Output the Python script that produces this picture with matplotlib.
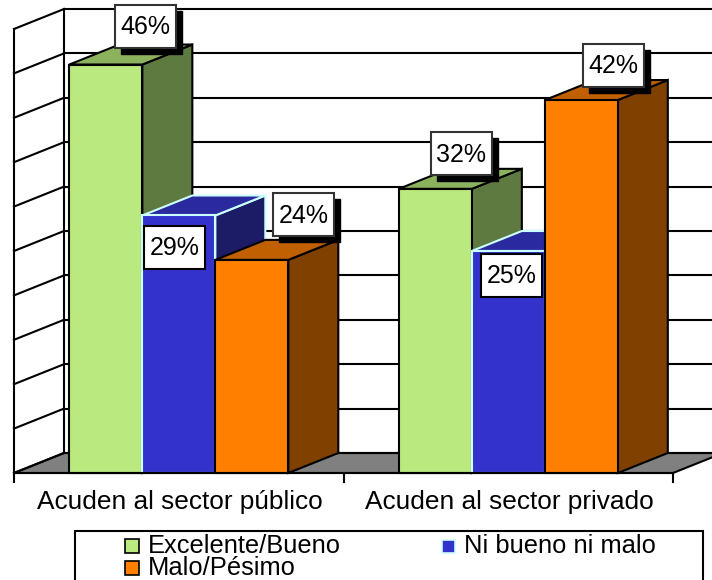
import matplotlib
matplotlib.use('Agg')
import matplotlib.pyplot as plt
from matplotlib.patches import Polygon, Rectangle

plt.rcParams['font.family'] = ['Liberation Sans', 'DejaVu Sans']

# data
categories = ['Acuden al sector público', 'Acuden al sector privado']
series = ['Excelente/Bueno', 'Ni bueno ni malo', 'Malo/Pésimo']
excelente = [46, 32]
ni_bueno = [29, 25]
malo = [24, 42]
values = [excelente, ni_bueno, malo]
y_ticks = [0, 5, 10, 15, 20, 25, 30, 35, 40, 45, 50]

# front, top, side, edge
styles = [('#B9E97F', '#8DB25E', '#5E7A40', 'black'),
          ('#3333CC', '#2A2A9E', '#1B1B66', '#CCFFFF'),
          ('#FF8000', '#C06000', '#804000', 'black')]

# moved labels, offset in pixels from the front top centre of each bar
label_off = [[(40, -38.5), (26, -35)],
             [(-4, 32), (3, 24)],
             [(52, -45), (32, -35)]]

W, H = 712, 580
fig = plt.figure(figsize=(W / 100, H / 100), dpi=100, facecolor='white')

# axes area is the front plane of the 3D box
ax = fig.add_axes([14 / W, 1 - 473 / H, 659 / W, 444 / H])
ax.set_xlim(0, 2)
ax.set_ylim(0, 50)
ax.axis('off')

page = fig.add_axes([0, 0, 1, 1], zorder=5)
page.set_xlim(0, W)
page.set_ylim(H, 0)
page.axis('off')

px = 2 / 659
py = 50 / 444
dx = 50 * px
dy = 20 * py
bar_w = 0.2215
gap = 0.168
lw = 1.5

# floor and walls
ax.add_patch(Polygon([(0, 0), (dx, dy), (2 + dx, dy), (2, 0)], fc='#808080', ec='black', lw=lw,
                     clip_on=False, zorder=1))
for t in y_ticks:
    ax.plot([dx, 2 + dx + 0.1], [t + dy, t + dy], color='black', lw=lw, clip_on=False, zorder=1)
    ax.plot([0, dx], [t, t + dy], color='black', lw=lw, clip_on=False, zorder=1)
ax.plot([0, 0], [0, 50], color='black', lw=lw, clip_on=False, zorder=1)
ax.plot([dx, dx], [dy, 50 + dy], color='black', lw=lw, clip_on=False, zorder=1)

# bars, later ones cover the earlier ones
z = 2
for c in range(len(categories)):
    for s in range(len(series)):
        v = values[s][c]
        x0 = c + gap + s * bar_w
        x1 = x0 + bar_w
        front, top, side, edge = styles[s]
        ax.add_patch(Polygon([(x1, 0), (x1 + dx, dy), (x1 + dx, v + dy), (x1, v)],
                             fc=side, ec=edge, lw=lw, clip_on=False, zorder=z))
        ax.add_patch(Polygon([(x0, v), (x0 + dx, v + dy), (x1 + dx, v + dy), (x1, v)],
                             fc=top, ec=edge, lw=lw, clip_on=False, zorder=z))
        ax.bar(x0, v, bar_w, align='edge', color=front, edgecolor=edge, lw=lw, clip_on=False, zorder=z)
        z += 1

# base line and ticks
ax.plot([0, 2], [0, 0], color='black', lw=lw, clip_on=False, zorder=z)
for t in range(3):
    ax.plot([t, t], [0, -9 * py], color='black', lw=lw, clip_on=False, zorder=z)
for c, name in enumerate(categories):
    ax.text(c + 0.504, -29 * py, name, ha='center', va='center', fontsize=18.9, color='black', zorder=z)

# data labels, the ones above the bars have a hard shadow
box_w = 61 * px
box_h = 43 * py
for s in range(len(series)):
    for c in range(len(categories)):
        v = values[s][c]
        off = label_off[s][c]
        cx = c + gap + s * bar_w + bar_w / 2 + off[0] * px
        cy = v - off[1] * py
        if off[1] < 0:
            ax.add_patch(Rectangle((cx - box_w / 2 + 6 * px, cy - box_h / 2 - 6 * py), box_w, box_h, fc='black',
                                   ec='black', lw=1, clip_on=False, zorder=z + 1))
        ax.add_patch(Rectangle((cx - box_w / 2, cy - box_h / 2), box_w, box_h, fc='white',
                               ec='#333333' if off[1] < 0 else 'black', lw=1.5, clip_on=False, zorder=z + 1))
        ax.text(cx, cy - 1 * py, '%d%%' % v, ha='center', va='center', fontsize=18, color='black', zorder=z + 2)

# legend, box runs off the bottom of the picture
page.add_patch(Rectangle((75, 531), 628, 70, fc='white', ec='black', lw=1.5))
legend_pos = [(125, 546), (442, 546), (125, 568)]
for s, name in enumerate(series):
    lx, ly = legend_pos[s]
    size = 14 if s != 1 else 13
    page.add_patch(Rectangle((lx, ly - size / 2), size, size, fc=styles[s][0], ec='black' if s != 1 else '#CCFFFF', lw=1.2))
    page.text(lx + (23 if s != 1 else 22), ly, name, ha='left', va='center', fontsize=18.4, color='black')

fig.savefig('out.png', dpi=100)
